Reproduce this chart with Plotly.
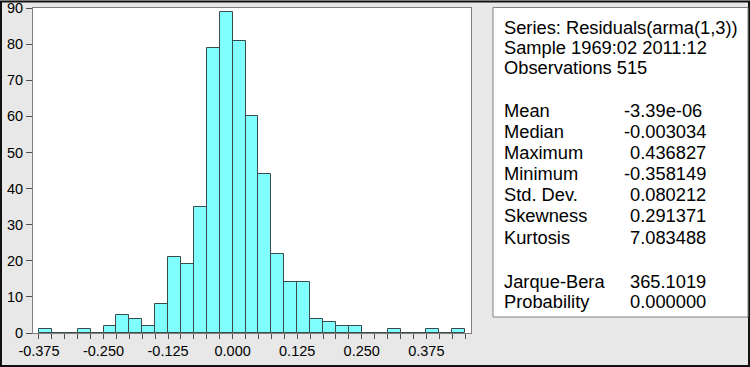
import plotly.graph_objects as go

# ---- data ----
bin_start = -0.375
bin_width = 0.025
counts = [1, 0, 0, 1, 0, 2, 5, 4, 2, 8, 21, 19, 35, 79, 89, 81, 60, 44, 22,
          14, 14, 4, 3, 2, 2, 0, 0, 1, 0, 0, 1, 0, 1]
x_tick_vals = [-0.375, -0.250, -0.125, 0.000, 0.125, 0.250, 0.375]
x_tick_text = ["-0.375", "-0.250", "-0.125", "0.000", "0.125", "0.250", "0.375"]
y_tick_vals = [0, 10, 20, 30, 40, 50, 60, 70, 80, 90]

header_lines = ["Series: Residuals(arma(1,3))", "Sample 1969:02 2011:12", "Observations 515"]
stat_labels = ["Mean", "Median", "Maximum", "Minimum", "Std. Dev.", "Skewness", "Kurtosis"]
stat_values = ["-3.39e-06", "-0.003034", "0.436827", "-0.358149", "0.080212", "0.291371", "7.083488"]
test_labels = ["Jarque-Bera", "Probability"]
test_values = ["365.1019", "0.000000"]

centers = [bin_start + (i + 0.5) * bin_width for i in range(len(counts))]

# ---- layout geometry (pixels) ----
W, H = 750, 367
ML, MR, MT, MB = 33, 279, 7.5, 34
PW, PH = W - ML - MR, H - MT - MB


def px(xp):
    return (xp - ML) / PW


def py(yp):
    return (H - MB - yp) / PH


FONT = "Liberation Sans, Arial, sans-serif"
TXT = 18.3

fig = go.Figure()
fig.add_trace(go.Bar(
    x=centers, y=counts, width=bin_width,
    marker=dict(color="#80FFFF", line=dict(color="#3A4A4A", width=1)),
    hoverinfo="x+y", showlegend=False,
))

shapes = [
    # outer window border
    dict(type="rect", xref="paper", yref="paper", x0=px(1), x1=px(749), y0=py(1), y1=py(366),
         line=dict(color="#111111", width=2), fillcolor="rgba(0,0,0,0)", layer="below"),
    # stats box
    dict(type="rect", xref="paper", yref="paper", x0=px(493), x1=px(748), y0=py(7), y1=py(317),
         line=dict(color="#808080", width=1), fillcolor="white", layer="below"),
]

annotations = []
label_x = 502
header_y = [27.5, 47.5, 67.5]
for t, yy in zip(header_lines, header_y):
    annotations.append(dict(text=t, x=px(label_x), y=py(yy), xref="paper", yref="paper",
                            xanchor="left", yanchor="middle", showarrow=False,
                            font=dict(family=FONT, size=TXT, color="black")))

stat_y = [110.5, 131.5, 152.5, 173.5, 194.5, 215.5, 237]
test_y = [281, 301.5]
for labs, vals, ys in [(stat_labels, stat_values, stat_y), (test_labels, test_values, test_y)]:
    for lab, val, yy in zip(labs, vals, ys):
        annotations.append(dict(text=lab, x=px(label_x), y=py(yy), xref="paper", yref="paper",
                                xanchor="left", yanchor="middle", showarrow=False,
                                font=dict(family=FONT, size=TXT, color="black")))
        vx = 622.3 if val.startswith("-") else 628
        annotations.append(dict(text=val, x=px(vx), y=py(yy), xref="paper", yref="paper",
                                xanchor="left", yanchor="middle", showarrow=False,
                                font=dict(family=FONT, size=TXT, color="black")))

fig.update_layout(
    width=W, height=H,
    margin=dict(l=ML, r=MR, t=MT, b=MB, pad=0, autoexpand=False),
    paper_bgcolor="#E8E8E8",
    plot_bgcolor="white",
    bargap=0,
    font=dict(family=FONT, size=14, color="black"),
    shapes=shapes,
    annotations=annotations,
    xaxis=dict(
        range=[-0.3865, 0.4615], tickvals=x_tick_vals, ticktext=x_tick_text,
        ticks="outside", ticklen=5, tickcolor="#505050", tickwidth=1,
        minor=dict(tick0=-0.375, dtick=0.025, ticks="outside", ticklen=5,
                   tickcolor="#505050", tickwidth=1, showgrid=False),
        showgrid=False, zeroline=False, showline=True, mirror=True,
        linecolor="#808080", linewidth=1, ticklabeloverflow="allow",
        tickfont=dict(family=FONT, size=14.5, color="black"),
    ),
    yaxis=dict(
        range=[0, 90], tickvals=y_tick_vals,
        ticks="outside", ticklen=6, tickcolor="#505050", tickwidth=1,
        showgrid=False, zeroline=False, showline=True, mirror=True,
        linecolor="#808080", linewidth=1, ticklabeloverflow="allow",
        tickfont=dict(family=FONT, size=14.5, color="black"),
    ),
)

fig.write_html(
    "out.html",
    config={"displayModeBar": False},
    post_script="document.body.style.margin='0';document.body.style.padding='0';",
)
